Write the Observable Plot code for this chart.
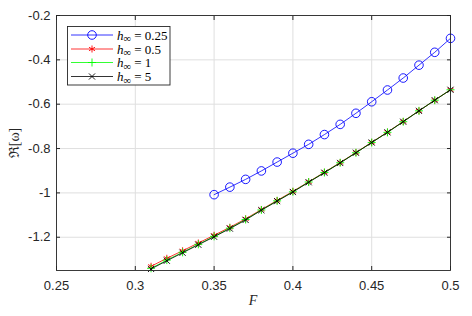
<!DOCTYPE html>
<html>
<head>
<meta charset="utf-8">
<script src="https://cdn.jsdelivr.net/npm/d3@7"></script>
<script src="https://cdn.jsdelivr.net/npm/@observablehq/plot@0.6"></script>
<style>
  html, body { margin: 0; padding: 0; background: #fff; }
  #chart { width: 472px; height: 316px; }
</style>
</head>
<body>
<div id="chart"></div>
<script>
const F1 = [0.35,0.36,0.37,0.38,0.39,0.40,0.41,0.42,0.43,0.44,0.45,0.46,0.47,0.48,0.49,0.50];
const h025 = [-1.008,-0.974,-0.939,-0.901,-0.861,-0.821,-0.781,-0.737,-0.691,-0.641,-0.589,-0.536,-0.482,-0.424,-0.366,-0.303];

const F2 = [0.31,0.32,0.33,0.34,0.35,0.36,0.37,0.38,0.39,0.40,0.41,0.42,0.43,0.44,0.45,0.46,0.47,0.48,0.49,0.50];
const h05 = [-1.331,-1.295,-1.261,-1.226,-1.191,-1.155,-1.117,-1.075,-1.034,-0.993,-0.950,-0.907,-0.863,-0.818,-0.772,-0.726,-0.678,-0.630,-0.582,-0.535];
const h1  = [-1.340,-1.303,-1.268,-1.232,-1.196,-1.159,-1.120,-1.077,-1.036,-0.995,-0.951,-0.908,-0.864,-0.819,-0.773,-0.727,-0.679,-0.630,-0.582,-0.535];
const h5  = [-1.343,-1.306,-1.270,-1.234,-1.198,-1.161,-1.122,-1.078,-1.037,-0.996,-0.952,-0.909,-0.865,-0.819,-0.773,-0.727,-0.679,-0.630,-0.582,-0.535];

const xTicks = [0.25,0.3,0.35,0.4,0.45,0.5];
const yTicks = [-1.2,-1,-0.8,-0.6,-0.4,-0.2];
const legendLabels = ["0.25","0.5","1","5"];

const series = [
  {label: "0.25", F: F1, v: h025, color: "#0000ff", symbol: "circle", r: 4.3, fill: "none"},
  {label: "0.5",  F: F2, v: h05,  color: "#ff0000", symbol: "asterisk", r: 3.3, fill: "none"},
  {label: "1",    F: F2, v: h1,   color: "#00ff00", symbol: "plus", r: 2.7, fill: "none"},
  {label: "5",    F: F2, v: h5,   color: "#000000", symbol: "times", r: 2.9, fill: "none"}
];
const tables = series.map(s => s.F.map((f, i) => ({F: f, v: s.v[i]})));

const fmt = d => String(d);

const marks = [
  Plot.gridX(xTicks, {stroke: "#dfdfdf", strokeOpacity: 1}),
  Plot.gridY(yTicks, {stroke: "#dfdfdf", strokeOpacity: 1}),
  Plot.axisX(xTicks, {anchor: "bottom", tickSize: -4, tickPadding: 14, tickFormat: fmt, label: null, stroke: "#262626"}),
  Plot.axisX(xTicks, {anchor: "top", tickSize: -4, tickFormat: () => "", label: null, stroke: "#262626"}),
  Plot.axisY(yTicks, {anchor: "left", tickSize: -4, tickPadding: 10, tickFormat: fmt, label: null, stroke: "#262626"}),
  Plot.axisY(yTicks, {anchor: "right", tickSize: -4, tickFormat: () => "", label: null, stroke: "#262626"})
];
series.forEach((s, k) => {
  marks.push(Plot.line(tables[k], {x: "F", y: "v", stroke: s.color, strokeWidth: 0.8}));
  marks.push(Plot.dot(tables[k], {x: "F", y: "v", stroke: s.color, fill: s.fill, symbol: s.symbol, r: s.r, strokeWidth: 0.9}));
});
marks.push(Plot.frame({stroke: "#262626", strokeWidth: 0.9}));

const chart = Plot.plot({
  width: 472,
  height: 316,
  marginLeft: 56,
  marginRight: 22,
  marginTop: 15,
  marginBottom: 46,
  x: {domain: [0.25, 0.5]},
  y: {domain: [-1.35, -0.2]},
  style: {fontFamily: "'Liberation Sans', Arial, sans-serif", fontSize: "13px", color: "#262626", background: "white", overflow: "visible"},
  marks
});
document.getElementById("chart").appendChild(chart);

// axis titles and legend (annotations in pixel space)
const svg = d3.select(chart);
svg.append("text")
  .attr("x", 253).attr("y", 300).attr("text-anchor", "middle").attr("dy", "0.35em")
  .style("font-family", "'Liberation Serif', 'DejaVu Serif', serif").style("font-style", "italic").style("font-size", "14px")
  .attr("fill", "#262626").text("F");
svg.append("text")
  .attr("transform", "translate(14,143) rotate(-90)").attr("text-anchor", "middle").attr("dy", "0.35em")
  .style("font-family", "'Liberation Serif', 'DejaVu Serif', serif").style("font-size", "14px")
  .attr("fill", "#262626").text("ℜ[ω]");

const lg = svg.append("g");
lg.append("rect").attr("x", 67.5).attr("y", 26.5).attr("width", 102.5).attr("height", 58.5)
  .attr("fill", "white").attr("stroke", "#262626").attr("stroke-width", 0.9);
const rowY = [35, 49, 62.5, 76.5];
const d3sym = {circle: d3.symbolCircle, asterisk: d3.symbolAsterisk, plus: d3.symbolPlus, times: d3.symbolTimes};
series.forEach((s, k) => {
  const y = rowY[k];
  lg.append("line").attr("x1", 71).attr("x2", 113).attr("y1", y).attr("y2", y).attr("stroke", s.color).attr("stroke-width", 0.8);
  lg.append("path").attr("transform", `translate(92,${y})`)
    .attr("d", d3.symbol(d3sym[s.symbol], s.r * s.r * Math.PI)())
    .attr("fill", "none").attr("stroke", s.color).attr("stroke-width", 0.9);
  const t = lg.append("text").attr("x", 117).attr("y", y).attr("dy", "0.35em").attr("text-anchor", "start")
    .style("text-anchor", "start")
    .style("font-family", "'Liberation Serif', 'DejaVu Serif', serif").style("font-size", "13px").attr("fill", "#000");
  t.append("tspan").style("font-style", "italic").text("h");
  t.append("tspan").attr("dy", 2.5).style("font-size", "10.5px").text("∞");
  t.append("tspan").attr("dy", -2.5).text(" = " + legendLabels[k]);
});
</script>
</body>
</html>
